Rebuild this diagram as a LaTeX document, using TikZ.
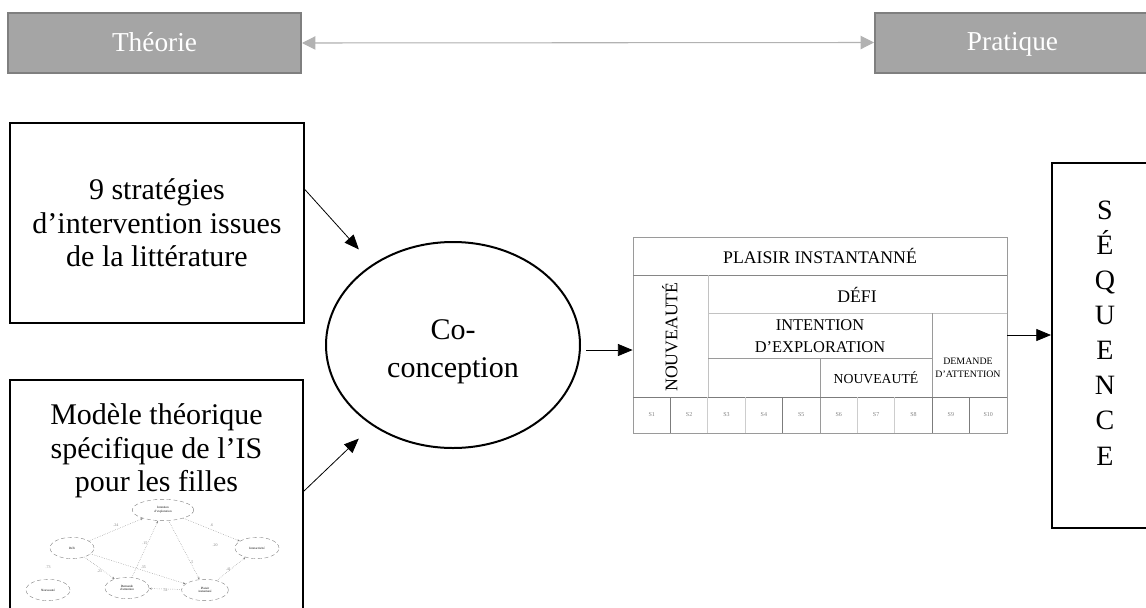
\documentclass[tikz,border=0pt]{standalone}
\usepackage{fontspec}
\setmainfont{Liberation Serif}
\usetikzlibrary{arrows.meta,shapes.geometric}
\definecolor{gris}{HTML}{A5A5A5}
\definecolor{grisbord}{HTML}{7F7F7F}
\definecolor{trait}{HTML}{9A9A9A}
\tikzset{
  pole/.style={draw=grisbord, fill=gris, line width=1.5pt, text=white,
    font=\fontsize{20.5}{22}\selectfont, minimum height=45pt,
    text height=1.25em, text depth=0pt},
  boite/.style={draw=black, line width=1.5pt, align=center,
    font=\fontsize{22.5}{25}\selectfont},
  fleche/.style={-{Triangle[length=11pt,width=9pt]}, line width=0.6pt},
  cas/.style={font=\fontsize{13.3}{15}\selectfont, inner sep=0pt, align=center},
  bulle/.style={ellipse, draw=gray, densely dashed, line width=0.3pt,
    minimum width=33pt, minimum height=16pt, inner sep=0pt, align=center,
    font=\fontsize{2.4}{2.8}\selectfont},
  lien/.style={-{Stealth[length=2pt]}, draw=gray, densely dotted, line width=0.35pt},
  coef/.style={font=\fontsize{3}{3}\selectfont, text=gray, inner sep=0pt}
}
\begin{document}
\begin{tikzpicture}[x=0.75pt,y=-0.75pt]
	\useasboundingbox (0,0) rectangle (1146,607);
	% pôles
	\node[pole, minimum width=219.75pt] (theorie) at (154.5,43) {Théorie};
	\node[pole, minimum width=206.25pt] (pratique) at (1012.5,42.5) {Pratique};
	\draw[{Triangle[length=10pt,width=10pt]}-{Triangle[length=10pt,width=10pt]},
		draw=gray!60, fill=gray!70, line width=0.8pt] (theorie.east) -- (pratique.west);
	% sources
	\node[boite, minimum width=220.5pt, minimum height=150pt] (strat) at (157,223)
		{9 stratégies\\d’intervention issues\\de la littérature};
	\node[boite, minimum width=219.75pt, minimum height=202.5pt] (modele) at (156.5,515) {};
	\node[boite, draw=none] (modeletxt) at (156.5,451)
		{Modèle théorique\\spécifique de l’IS\\pour les filles};
	% co-conception
	\node[ellipse, draw, line width=1.5pt, minimum width=190.5pt, minimum height=154.5pt,
		inner sep=0pt] (cocon) at (453,345) {};
	\node[align=center, font=\fontsize{22.5}{28.5}\selectfont] (cocontxt) at (453,352)
		{Co-\\conception};
	\draw[fleche, shorten >=15pt] ([yshift=25pt]strat.east) -- (cocon.135);
	\draw[fleche, shorten >=14pt] ([yshift=18pt]modele.east) -- (cocon.225);
	% séquence
	\node[draw=trait, line width=0.6pt, minimum width=280.5pt, minimum height=147pt] (tableau) at (820,335) {};
	\coordinate (depart) at ([xshift=4pt,yshift=-3.75pt]cocon.east);
	\draw[fleche] (depart) -- (depart -| tableau.west);
	\draw[trait!120, line width=0.6pt] (633,275) -- (1007,275);
	\draw[trait!60, line width=0.5pt] (708,275) -- (708,397);
	\draw[trait!60, line width=0.5pt] (708,313) -- (1007,313);
	\draw[trait, line width=0.6pt] (708,358) -- (932,358);
	\draw[trait, line width=0.6pt] (932,313) -- (932,433);
	\draw[trait, line width=0.6pt] (820,358) -- (820,433);
	\draw[trait!130, line width=0.7pt] (633,397) -- (1007,397);
	\foreach \k in {1,4,8,9}
		\draw[trait!130, line width=0.6pt] (633+37.4*\k,397) -- (633+37.4*\k,433);
	\foreach \k in {2,3,6,7}
		\draw[trait!50, line width=0.5pt] (633+37.4*\k,397) -- (633+37.4*\k,433);
	\node[cas] (plaisir) at (820,256) {PLAISIR INSTANTANNÉ};
	\node[cas] (defi) at (857,295) {DÉFI};
	\node[cas, font=\fontsize{12.3}{16.5}\selectfont] (intention) at (820,336) {INTENTION\\D’EXPLORATION};
	\node[cas, rotate=90] (nouv1) at (670,337) {NOUVEAUTÉ};
	\node[cas, font=\fontsize{10.3}{12}\selectfont] (nouv2) at (876,378) {NOUVEAUTÉ};
	\node[cas, font=\fontsize{7.4}{9.5}\selectfont] (demande) at (968,368) {DEMANDE\\D’ATTENTION};
	\foreach \k in {1,...,10}
		\node[font=\fontsize{4.5}{4.5}\selectfont, text=gray, inner sep=0pt] (s\k) at (633+37.4*\k-18.7,415) {S\k};
	\node[boite, minimum width=111pt, minimum height=273.75pt] (seq) at (1126,345.5) {};
	\node[align=center, font=\fontsize{21}{26.3}\selectfont] (seqtxt) at (1105,333)
		{S\\É\\Q\\U\\E\\N\\C\\E};
	\draw[fleche] (tableau.east) -- (tableau.east -| seq.west);
	% modèle théorique (miniature)
	\node[bulle, minimum width=46pt] (m1) at (163,510) {Intention\\d’exploration};
	\node[bulle] (m2) at (72,548) {Défi};
	\node[bulle] (m3) at (257,548) {Interactivité};
	\node[bulle] (m4) at (48,590) {Nouveauté};
	\node[bulle] (m5) at (127,588) {Demande\\d’attention};
	\node[bulle, minimum width=35pt] (m6) at (205,590) {Plaisir\\instantané};
	\draw[lien] (m2) -- node[coef, above, yshift=2pt] {.24} (m1);
	\draw[lien] (m1) -- node[coef, above, yshift=2pt] {.6} (m3);
	\draw[lien] (m2) -- node[coef, below, yshift=-1pt] {.21} (m5);
	\draw[lien] (m2) -- node[coef, above, xshift=4pt] {.35} (m6);
	\draw[lien] (m5) -- node[coef, left, pos=0.6] {.15} (m1);
	\draw[lien] (m1) -- node[coef, right, pos=0.7] {.5} (m6);
	\draw[lien] (m6) -- node[coef, left] {.41} (m3);
	\draw[lien] (m6) -- node[coef, below] {.51} (m5);
	\node[coef] (r1) at (215,545) {.20};
	\node[coef] (r2) at (48,567) {.73};
\end{tikzpicture}
\end{document}
